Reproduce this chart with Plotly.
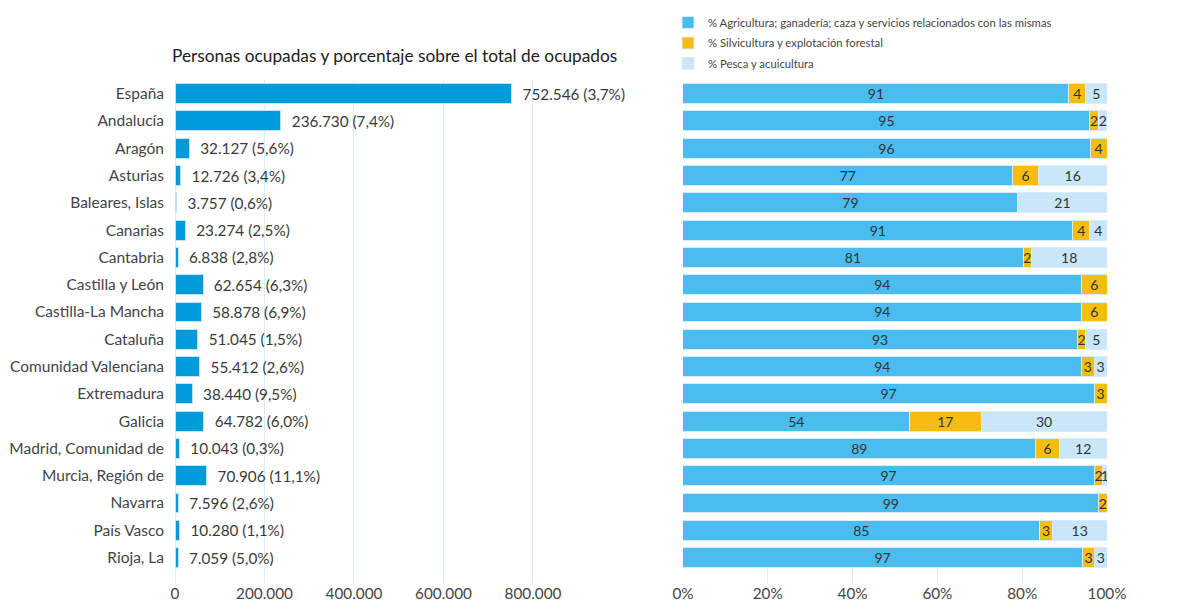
import plotly.graph_objects as go

# regiones (orden de arriba abajo)
regions = ["España", "Andalucía", "Aragón", "Asturias", "Baleares, Islas", "Canarias",
           "Cantabria", "Castilla y León", "Castilla-La Mancha", "Cataluña",
           "Comunidad Valenciana", "Extremadura", "Galicia", "Madrid, Comunidad de",
           "Murcia, Región de", "Navarra", "País Vasco", "Rioja, La"]

# personas ocupadas y % sobre el total de ocupados
occupied = [752546, 236730, 32127, 12726, 3757, 23274, 6838, 62654, 58878, 51045,
            55412, 38440, 64782, 10043, 70906, 7596, 10280, 7059]
occupied_pct = [3.7, 7.4, 5.6, 3.4, 0.6, 2.5, 2.8, 6.3, 6.9, 1.5,
                2.6, 9.5, 6.0, 0.3, 11.1, 2.6, 1.1, 5.0]

# reparto por rama (valores redondeados tal como aparecen)
agri = [91, 95, 96, 77, 79, 91, 81, 94, 94, 93, 94, 97, 54, 89, 97, 99, 85, 97]
silvi = [4, 2, 4, 6, 0, 4, 2, 6, 6, 2, 3, 3, 17, 6, 2, 2, 3, 3]
pesca = [5, 2, 0, 16, 21, 4, 18, 0, 0, 5, 3, 0, 30, 12, 1, 0, 13, 3]

series_names = ["% Agricultura; ganadería; caza y servicios relacionados con las mismas",
                "% Silvicultura y explotación forestal",
                "% Pesca y acuicultura"]
series_colors = ["#4BBCEF", "#F5BD10", "#C9E7F9"]

FONT = "Lato"
TXT = "#333333"


def fmt_int(v):
    return f"{v:,}".replace(",", ".")


def fmt_pct(p):
    return f"{p:.1f}".replace(".", ",")


# espacio delante de la etiqueta para separarla de la barra
left_labels = [f"\u00a0\u00a0{fmt_int(v)} ({fmt_pct(p)}%)" for v, p in zip(occupied, occupied_pct)]

fig = go.Figure()

fig.add_trace(go.Bar(
    y=regions, x=occupied, orientation="h",
    marker=dict(color="#009BDB", line=dict(color="#BFE3F6", width=1)),
    text=left_labels, textposition="outside", cliponaxis=False,
    textfont=dict(family=FONT, size=15.3, color="#3a3a3a"),
    showlegend=False, xaxis="x", yaxis="y",
))

# normalizar cada fila a 100 (los redondeos no siempre suman 100)
totals = [a + s + p for a, s, p in zip(agri, silvi, pesca)]
for i, (name, vals, color) in enumerate(zip(series_names, [agri, silvi, pesca], series_colors)):
    shares = [v / t * 100 for v, t in zip(vals, totals)]
    fig.add_trace(go.Bar(
        y=regions, x=shares, orientation="h", name=name, legendgroup=f"g{i}",
        marker=dict(color=color, line=dict(color="#D6EDFA", width=1)),
        text=[str(v) if v else "" for v in vals],
        texttemplate="%{text}",
        textposition="inside", insidetextanchor="middle",
        textangle=0, constraintext="none",
        textfont=dict(family=FONT, size=14, color=TXT),
        hoverinfo="name+text",
        xaxis="x2", yaxis="y2",
    ))

y_range = [17.93, -0.5]
# la página añade 8px de margen, así que la figura es 8px más pequeña
y_top = 503 / 575

fig.update_layout(
    width=1172, height=607,
    margin=dict(l=167, r=73, t=0, b=32),
    paper_bgcolor="white", plot_bgcolor="white",
    barmode="stack", bargap=0.27,
    separators=",.",
    font=dict(family=FONT, size=15, color=TXT),
    xaxis=dict(domain=[0, 0.4753], range=[0, 990000], dtick=200000, tickformat=",d",
               showgrid=True, gridcolor="#D8EEFA", gridwidth=1,
               zeroline=True, zerolinecolor="#D8EEFA", zerolinewidth=1,
               showline=False, ticks="", automargin=False,
               tickfont=dict(size=15.3, color="#444444")),
    yaxis=dict(domain=[0, y_top], range=y_range, showgrid=False, showline=False,
               ticks="", automargin=False,
               ticklabelstandoff=10, tickfont=dict(size=15.5, color="#444444")),
    xaxis2=dict(domain=[0.545, 1], range=[0, 100], dtick=20, ticksuffix="%",
                showgrid=False, zeroline=False, showline=False, automargin=False,
                ticks="inside", ticklen=15, tickcolor="#D8EEFA", tickwidth=1,
                tickfont=dict(size=15.3, color="#444444")),
    yaxis2=dict(domain=[0, y_top], range=y_range, anchor="x2", showticklabels=False,
                showgrid=False, showline=False, ticks="", automargin=False),
    legend=dict(x=0.529, xanchor="left", y=1, yanchor="top",
                orientation="v", traceorder="grouped", tracegroupgap=1.5,
                font=dict(family=FONT, size=11.3, color="#444444"),
                itemwidth=30, bgcolor="rgba(0,0,0,0)"),
    annotations=[dict(text="Personas ocupadas y porcentaje sobre el total de ocupados",
                      xref="paper", yref="paper", x=0.236, y=y_top,
                      xanchor="center", yanchor="bottom", yshift=12, showarrow=False,
                      font=dict(family=FONT, size=17.3, color="#222222"))],
)

fig.write_html("out.html")
